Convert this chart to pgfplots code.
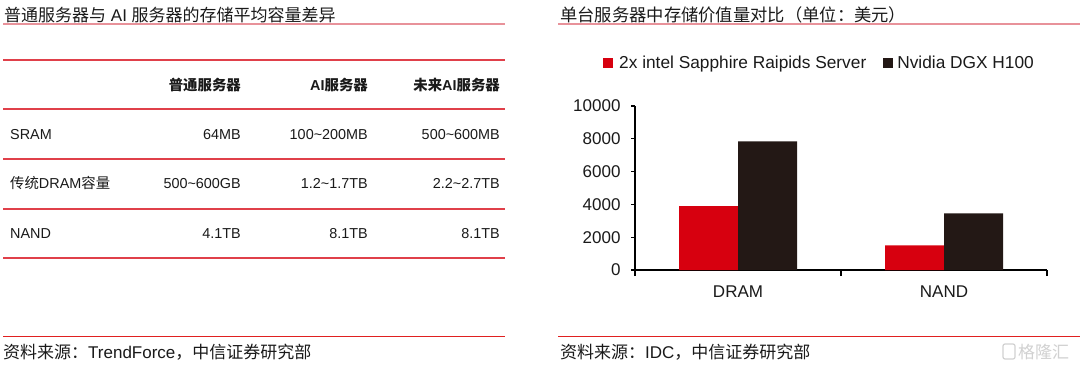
\documentclass[border=0pt]{standalone}
\usepackage{pgfplots}
\pgfplotsset{compat=1.18}
\usepackage{fontspec}
\setmainfont{Liberation Sans}
\newfontfamily\cjk{Noto Sans CJK SC}
\definecolor{barred}{HTML}{D7000F}
\definecolor{barblack}{HTML}{231815}
\definecolor{tline}{HTML}{E0404A}
\definecolor{ttline}{HTML}{E8929A}
\definecolor{fline}{HTML}{E02020}
\definecolor{txt}{HTML}{1A1A1A}
\begin{document}
\begin{tikzpicture}[x=1bp,y=1bp]
\fill[white] (0,0) rectangle (1080,369);
\useasboundingbox (0,0) rectangle (1080,369);
% ---------- left panel: table ----------
\node[anchor=base west, inner sep=0, text=txt, font=\fontsize{17bp}{20bp}\selectfont] at (4,348) {{\cjk 普通服务器与} AI {\cjk 服务器的存储平均容量差异}};
\draw[ttline, line width=1.5bp] (3,345) -- (505,345);
\foreach \yy in {309,260,210,160,111} {\draw[tline, line width=1.5bp] (3,\yy) -- (505,\yy);}
\begin{scope}[every node/.style={inner sep=0, text=txt, font=\fontsize{14.4bp}{17bp}\selectfont}]
\node[anchor=base east] at (241,279) {\cjk\bfseries 普通服务器};
\node[anchor=base east] at (368,279) {\bfseries AI{\cjk\bfseries 服务器}};
\node[anchor=base east] at (500,279) {\bfseries{\cjk\bfseries 未来}AI{\cjk\bfseries 服务器}};
\node[anchor=base west] at (10,230) {SRAM};
\node[anchor=base east] at (241,230) {64MB};
\node[anchor=base east] at (368,230) {100\textasciitilde200MB};
\node[anchor=base east] at (500,230) {500\textasciitilde600MB};
\node[anchor=base west] at (10,181) {{\cjk 传统}DRAM{\cjk 容量}};
\node[anchor=base east] at (241,181) {500\textasciitilde600GB};
\node[anchor=base east] at (368,181) {1.2\textasciitilde1.7TB};
\node[anchor=base east] at (500,181) {2.2\textasciitilde2.7TB};
\node[anchor=base west] at (10,131) {NAND};
\node[anchor=base east] at (241,131) {4.1TB};
\node[anchor=base east] at (368,131) {8.1TB};
\node[anchor=base east] at (500,131) {8.1TB};
\end{scope}
\draw[fline, line width=1bp] (3,33) -- (505,33);
\node[anchor=base west, inner sep=0, text=txt, font=\fontsize{17bp}{20bp}\selectfont] at (3,11) {{\cjk 资料来源：}TrendForce{\cjk ，中信证券研究部}};
% ---------- right panel: chart ----------
\node[anchor=base west, inner sep=0, text=txt, font=\fontsize{17.3bp}{20bp}\selectfont] at (560,348) {\cjk 单台服务器中存储价值量对比（单位：美元）};
\draw[ttline, line width=1.5bp] (558,345) -- (1080,345);
\draw[fline, line width=1bp] (558,33) -- (1080,33);
\node[anchor=base west, inner sep=0, text=txt, font=\fontsize{17bp}{20bp}\selectfont] at (560,11) {{\cjk 资料来源：}IDC{\cjk ，中信证券研究部}};
\node[anchor=base west, inner sep=0, text=black!18, font=\fontsize{17bp}{20bp}\selectfont] at (1018,11) {\cjk 格隆汇};
\draw[black!18, line width=1.2bp, rounded corners=2bp] (1003,10) rectangle (1015,25);
\begin{axis}[
  at={(635bp,99bp)}, anchor=south west, scale only axis,
  width=412bp, height=164bp,
  xmin=0, xmax=2, ymin=0, ymax=10000,
  axis x line*=bottom, axis y line*=left,
  axis line style={black, line width=1.3bp},
  tick align=outside, major tick length=4bp, minor tick length=6bp,
  ytick={0,2000,4000,6000,8000,10000},
  scaled y ticks=false,
  /pgf/number format/1000 sep={},
  /pgf/number format/assume math mode=true,
  ytick style={black, line width=1.2bp},
  xtick={0.5,1.5}, xticklabels={DRAM,NAND},
  major x tick style={draw=none},
  minor xtick={0,1,2},
  minor x tick style={black, line width=1.3bp},
  ticklabel style={font=\fontsize{17bp}{20bp}\selectfont, text=txt},
  yticklabel style={xshift=-7bp},
  xticklabel style={yshift=-8bp},
  legend columns=2,
  legend style={at={(axis description cs:-0.0777,1.262)}, anchor=west, draw=none, fill=none, inner sep=0pt,
    font=\fontsize{17.3bp}{20bp}\selectfont, text=txt,
    /tikz/column 2/.style={column sep=15bp}},
]
\addplot[ybar, bar width=59bp, bar shift=-29.5bp, fill=barred, draw=none,
  legend image code/.code={\fill[barred] (0bp,-5bp) rectangle (10bp,5bp); \path (14bp,0bp);}]
  coordinates {(0.5,3900) (1.5,1500)};
\addplot[ybar, bar width=59bp, bar shift=29.5bp, fill=barblack, draw=none,
  legend image code/.code={\fill[barblack] (0bp,-5bp) rectangle (10bp,5bp); \path (12bp,0bp);}]
  coordinates {(0.5,7850) (1.5,3450)};
\legend{2x intel Sapphire Raipids Server, Nvidia DGX H100}
\end{axis}
\end{tikzpicture}
\end{document}
